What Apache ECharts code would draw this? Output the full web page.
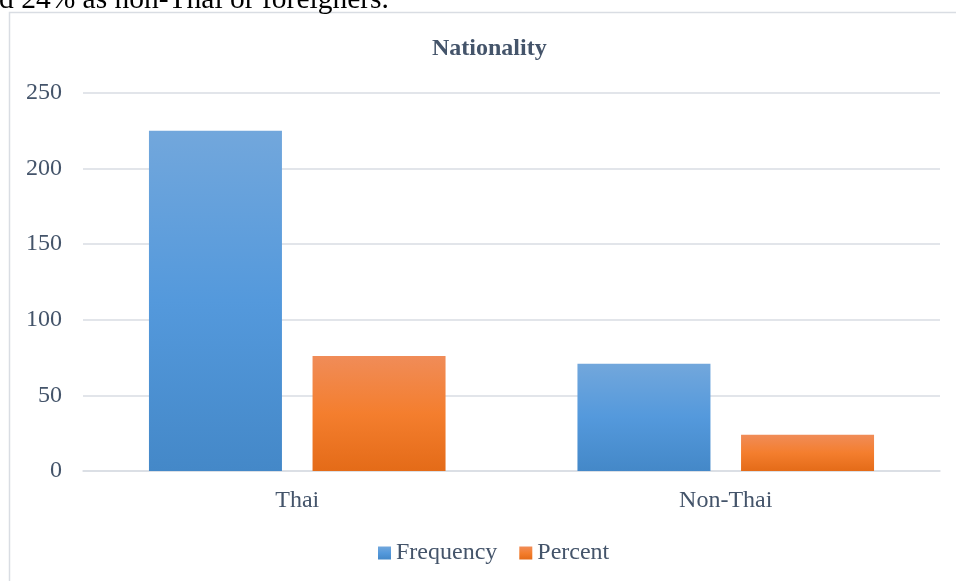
<!DOCTYPE html>
<html>
<head>
<meta charset="utf-8">
<script src="https://cdn.jsdelivr.net/npm/echarts@6/dist/echarts.min.js"></script>
<style>
html,body{margin:0;padding:0;background:#fff;}
#chart{width:956px;height:581px;}
</style>
</head>
<body>
<div id="chart"></div>
<script>
const categories = ['Thai', 'Non-Thai'];
const frequency = [225, 71];
const percent = [76, 24];
const yTicks = [0, 50, 100, 150, 200, 250];
const seriesNames = ['Frequency', 'Percent'];
const titleText = 'Nationality';
const topText = 'd 24% as non-Thai or foreigners.';

const font = '"Liberation Serif", "Times New Roman", serif';
const textColor = '#44546a';
const gridColor = '#d9dde3';

function grad(c1, c2, c3) {
  return new echarts.graphic.LinearGradient(0, 0, 0, 1, [
    {offset: 0, color: c1}, {offset: 0.5, color: c2}, {offset: 1, color: c3}
  ]);
}
const blue = grad('#72a7dc', '#5499dc', '#4488c8');
const orange = grad('#f08c58', '#f47e2e', '#e46b18');

const chart = echarts.init(document.getElementById('chart'), null, {renderer: 'canvas'});
chart.setOption({
  animation: false,
  backgroundColor: '#ffffff',
  graphic: [
    {type: 'rect', shape: {x: 9.5, y: 12.5, width: 1200, height: 1200}, style: {fill: 'none', stroke: gridColor, lineWidth: 1.5}, z: 0},
    {type: 'text', x: -1, y: 15, style: {text: topText, font: '29.5px ' + font, fill: '#000', verticalAlign: 'bottom'}, z: 1}
  ],
  title: {
    text: titleText,
    left: 427, top: 32,
    textStyle: {fontFamily: font, fontSize: 24, fontWeight: 'bold', color: textColor}
  },
  legend: {
    data: seriesNames,
    left: 373, top: 536,
    itemWidth: 13, itemHeight: 13, itemGap: 22, icon: 'rect',
    textStyle: {fontFamily: font, fontSize: 24, color: textColor}
  },
  grid: {left: 83, right: 16, top: 93, bottom: 110, containLabel: false},
  xAxis: {
    type: 'category',
    data: categories,
    axisLine: {lineStyle: {color: gridColor, width: 1.5}},
    axisTick: {show: false},
    axisLabel: {fontFamily: font, fontSize: 24, color: textColor, margin: 18}
  },
  yAxis: {
    type: 'value',
    min: yTicks[0], max: yTicks[yTicks.length - 1], interval: yTicks[1] - yTicks[0],
    axisLine: {show: false},
    axisTick: {show: false},
    splitLine: {lineStyle: {color: gridColor, width: 1.5}},
    axisLabel: {fontFamily: font, fontSize: 24, color: textColor, margin: 21}
  },
  series: [
    {name: seriesNames[0], type: 'bar', data: frequency, barWidth: 133, barGap: '23%', itemStyle: {color: blue}},
    {name: seriesNames[1], type: 'bar', data: percent, barWidth: 133, itemStyle: {color: orange}}
  ]
});
</script>
</body>
</html>
